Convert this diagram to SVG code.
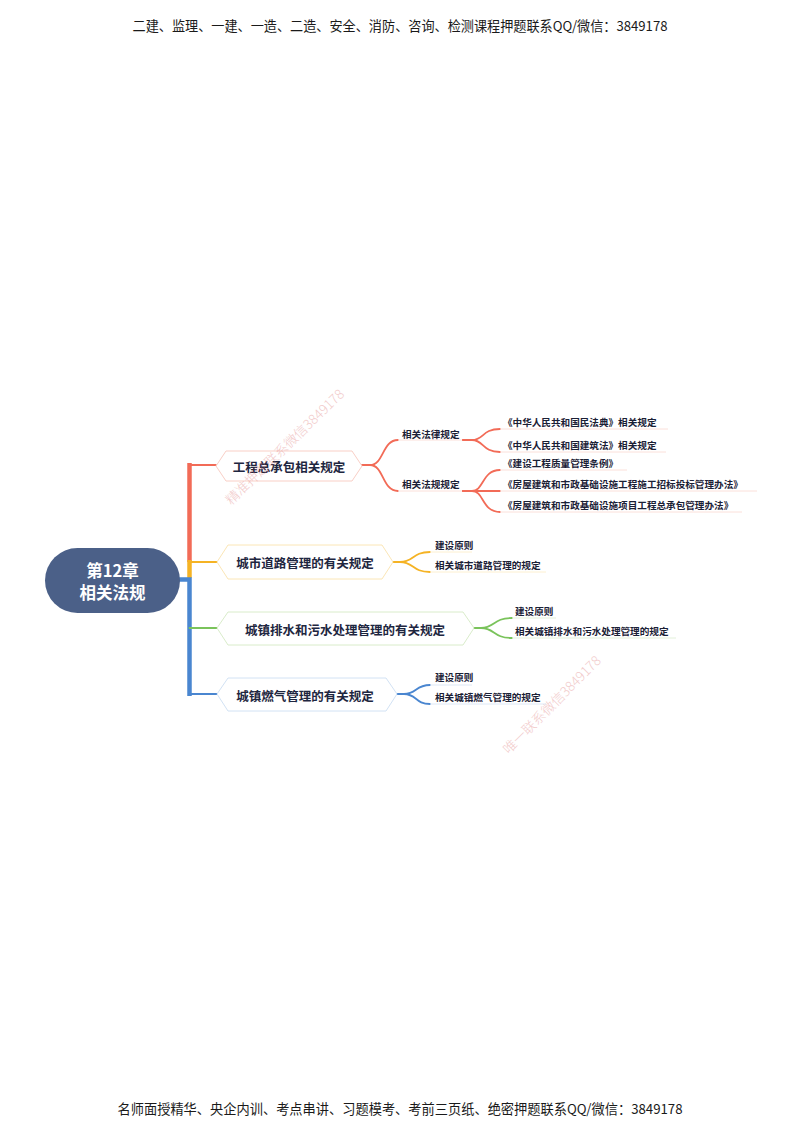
<svg xmlns="http://www.w3.org/2000/svg" width="800" height="1130" viewBox="0 0 800 1130">
<style>
text{font-family:"Noto Sans CJK SC","Liberation Sans",sans-serif;}
.hdr{font-size:13.5px;fill:#1a1a1a;text-anchor:middle;dominant-baseline:central;}
.root{font-size:16.5px;font-weight:700;fill:#ffffff;text-anchor:middle;dominant-baseline:central;}
.b1{font-size:12.5px;font-weight:700;fill:#1e2640;text-anchor:middle;dominant-baseline:central;}
.sm{font-size:9.6px;font-weight:700;fill:#1a2035;dominant-baseline:central;}
.wm{font-size:13.5px;font-weight:300;fill:#e07c7c;opacity:0.4;text-anchor:middle;dominant-baseline:central;font-family:"Noto Sans CJK SC",serif;}
.hex{fill:#ffffff;stroke-width:1;}
.c{fill:none;stroke-width:1.8;stroke-linecap:round;}
.u{fill:none;stroke-width:1;}
.red{stroke:#f26b57;} .yel{stroke:#f5b324;} .grn{stroke:#7ac35b;} .blu{stroke:#4a86d0;}
.ured{stroke:#fbe0da;} .uyel{stroke:#fdf0d0;} .ugrn{stroke:#e3f1da;} .ublu{stroke:#dde8f6;}
</style>

<text class="hdr" x="400" y="25" textLength="535" lengthAdjust="spacingAndGlyphs">二建、监理、一建、一造、二造、安全、消防、咨询、检测课程押题联系QQ/微信：3849178</text>
<text class="hdr" x="400" y="1108" textLength="565" lengthAdjust="spacingAndGlyphs">名师面授精华、央企内训、考点串讲、习题模考、考前三页纸、绝密押题联系QQ/微信：3849178</text>

<g id="connectors">
  <path d="M189.5,463 V562" stroke="#f26b57" stroke-width="4.5" fill="none"/>
  <path d="M189.5,560 V578" stroke="#f5b324" stroke-width="4.5" fill="none"/>
  <path d="M178,579.5 H189.5 V696" stroke="#4a86d0" stroke-width="4.5" fill="none"/>
  <path class="c red" d="M189.5,465 H216"/>
  <path class="c yel" d="M189.5,562 H217"/>
  <path class="c grn" d="M189.5,628 H217"/>
  <path class="c blu" d="M189.5,694 H217"/>

  <path class="c red" d="M362,465 L370,465 C384,465 382,440 398,440"/>
  <path class="c red" d="M362,465 L370,465 C384,465 382,491 398,491"/>
  <path class="u ured" d="M398,440 H463"/>
  <path class="u ured" d="M398,491 H463"/>
  <path class="c red" d="M463,440 L472,440 C484,440 482,429 500,429"/>
  <path class="c red" d="M463,440 L472,440 C484,440 482,452 500,452"/>
  <path class="c red" d="M463,491 L472,491 C484,491 482,470 500,470"/>
  <path class="c red" d="M463,491 H500"/>
  <path class="c red" d="M463,491 L472,491 C484,491 482,512 500,512"/>
  <path class="u ured" d="M500,429 H668"/>
  <path class="u ured" d="M500,452 H666"/>
  <path class="u ured" d="M500,470 H627"/>
  <path class="u ured" d="M500,491 H757"/>
  <path class="u ured" d="M500,512 H742"/>

  <path class="c yel" d="M393,562 L400,562 C414,562 412,552 430,552"/>
  <path class="c yel" d="M393,562 L400,562 C414,562 412,572 430,572"/>
  <path class="u uyel" d="M430,552 H472"/>
  <path class="u uyel" d="M430,572 H546"/>

  <path class="c grn" d="M474,628 L481,628 C495,628 493,618 512,618"/>
  <path class="c grn" d="M474,628 L481,628 C495,628 493,638 512,638"/>
  <path class="u ugrn" d="M512,618 H556"/>
  <path class="u ugrn" d="M512,638 H676"/>

  <path class="c blu" d="M397,694 L404,694 C417,694 415,685 430,685"/>
  <path class="c blu" d="M397,694 L404,694 C417,694 415,704 430,704"/>
  <path class="u ublu" d="M430,685 H472"/>
  <path class="u ublu" d="M430,704 H546"/>
</g>

<g id="root">
  <rect x="45" y="548" width="135" height="65" rx="32.5" fill="#4b6088"/>
  <text class="root" x="112.5" y="570">第12章</text>
  <text class="root" x="112.5" y="592">相关法规</text>
</g>

<g id="n1">
  <polygon class="hex" stroke="#f9cfc6" points="216,466 226,451 352,451 362,466 352,481 226,481"/>
  <text class="b1" x="289" y="466">工程总承包相关规定</text>
</g>
<g id="n1a"><text class="sm" x="402" y="434">相关法律规定</text></g>
<g id="n1b"><text class="sm" x="402" y="484">相关法规规定</text></g>
<g id="n1a1"><text class="sm" x="503" y="422">《中华人民共和国民法典》相关规定</text></g>
<g id="n1a2"><text class="sm" x="503" y="445">《中华人民共和国建筑法》相关规定</text></g>
<g id="n1b1"><text class="sm" x="503" y="463">《建设工程质量管理条例》</text></g>
<g id="n1b2"><text class="sm" x="503" y="484">《房屋建筑和市政基础设施工程施工招标投标管理办法》</text></g>
<g id="n1b3"><text class="sm" x="503" y="505">《房屋建筑和市政基础设施项目工程总承包管理办法》</text></g>

<g id="n2">
  <polygon class="hex" stroke="#fbe6b6" points="217,562 228,545 382,545 393,562 382,579 228,579"/>
  <text class="b1" x="305" y="562">城市道路管理的有关规定</text>
</g>
<g id="n2a"><text class="sm" x="435" y="545">建设原则</text></g>
<g id="n2b"><text class="sm" x="435" y="565">相关城市道路管理的规定</text></g>

<g id="n3">
  <polygon class="hex" stroke="#d9ecca" points="217,628 228,612 463,612 474,628 463,645 228,645"/>
  <text class="b1" x="345" y="629">城镇排水和污水处理管理的有关规定</text>
</g>
<g id="n3a"><text class="sm" x="515" y="611">建设原则</text></g>
<g id="n3b"><text class="sm" x="515" y="631">相关城镇排水和污水处理管理的规定</text></g>

<g id="n4">
  <polygon class="hex" stroke="#d2e2f4" points="217,694 228,678 386,678 397,694 386,711 228,711"/>
  <text class="b1" x="305" y="695">城镇燃气管理的有关规定</text>
</g>
<g id="n4a"><text class="sm" x="435" y="677">建设原则</text></g>
<g id="n4b"><text class="sm" x="435" y="697">相关城镇燃气管理的规定</text></g>

<text class="wm" x="284" y="446" transform="rotate(-44 284 446)">精准押题联系微信3849178</text>
<text class="wm" x="551" y="704" transform="rotate(-45 551 704)">唯一联系微信3849178</text>
</svg>
